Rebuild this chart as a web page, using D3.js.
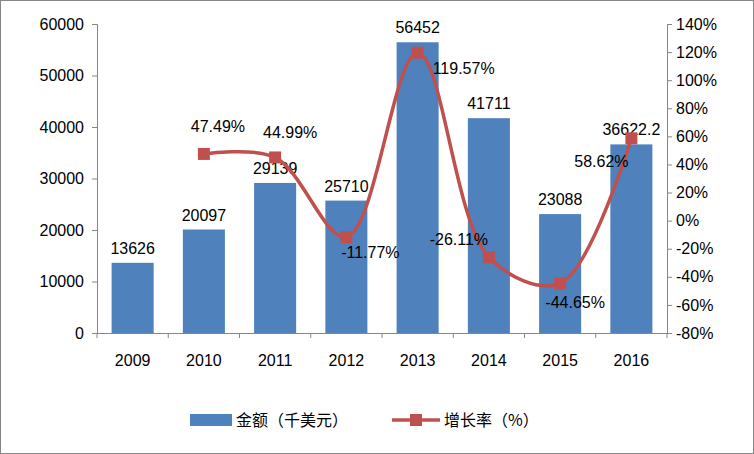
<!DOCTYPE html>
<html><head><meta charset="utf-8">
<script src="https://cdn.jsdelivr.net/npm/d3@7"></script>
<style>body{margin:0;background:#fff}svg{display:block}</style>
</head><body><div id="chart"></div>
<script>
const years = ["2009","2010","2011","2012","2013","2014","2015","2016"];
const amounts = [13626, 20097, 29139, 25710, 56452, 41711, 23088, 36622.2];
const growth = [null, 47.49, 44.99, -11.77, 119.57, -26.11, -44.65, 58.62];
const leftTicks = [0,10000,20000,30000,40000,50000,60000];
const rightTicks = [-80,-60,-40,-20,0,20,40,60,80,100,120,140];
// 增长率标签偏移
const labelOffsets = [null,[14,-28],[15,-25],[24,15],[46,15],[-30,-18],[15,19],[-30,23]];

const width = 754, height = 454;
const svg = d3.select("#chart").append("svg").attr("width", width).attr("height", height)
  .style("font-family", "'Liberation Sans', Arial, sans-serif");

svg.append("rect").attr("x",0.5).attr("y",0.5).attr("width",width-1).attr("height",height-1)
  .attr("fill","#fff").attr("stroke","#868686");

const x = d3.scaleBand().domain(years).range([97, 667]).paddingInner(0.41).paddingOuter(0.205);
const y = d3.scaleLinear().domain([0, 60000]).range([333, 24]);
const y2 = d3.scaleLinear().domain([-80, 140]).range([333, 24]);

const axL = svg.append("g").attr("transform","translate(97,0)")
  .call(d3.axisLeft(y).tickValues(leftTicks).tickSize(5).tickPadding(8).tickFormat(d3.format("d")));
const axR = svg.append("g").attr("transform","translate(667,0)")
  .call(d3.axisRight(y2).tickValues(rightTicks).tickSize(5).tickPadding(4).tickFormat(d => d + "%"));
const axB = svg.append("g").attr("transform","translate(0,333)")
  .call(d3.axisBottom(x).tickSize(0).tickPadding(22));
const xb = d3.scaleLinear().domain([0, 8]).range([97, 667]);
axB.selectAll(".tb").data(d3.range(9)).enter().append("line")
  .attr("x1", d => xb(d)).attr("x2", d => xb(d)).attr("y1", 0).attr("y2", 5).attr("stroke","#868686");
[axL, axR, axB].forEach(a => {
  a.selectAll("path,line").attr("stroke","#868686");
  a.selectAll("text").attr("fill","#000").style("font-size","16px")
    .style("font-family","'Liberation Sans', Arial, sans-serif");
});

// 柱子
svg.selectAll("rect.bar").data(amounts).enter().append("rect")
  .attr("x", (d, i) => x(years[i])).attr("width", x.bandwidth())
  .attr("y", d => y(d)).attr("height", d => 333 - y(d)).attr("fill","#4F81BD");
svg.selectAll("text.bl").data(amounts).enter().append("text")
  .attr("x", (d, i) => x(years[i]) + x.bandwidth()/2).attr("y", d => y(d) - 9)
  .attr("text-anchor","middle").style("font-size","16px").text(d => d);

// 增长率曲线
const pts = growth.map((g, i) => g == null ? null : [x(years[i]) + x.bandwidth()/2, y2(g)]).filter(p => p);
svg.append("path").attr("d", d3.line().curve(d3.curveCatmullRom.alpha(0.5))(pts))
  .attr("fill","none").attr("stroke","#C0504D").attr("stroke-width",3.5);
svg.selectAll("rect.mk").data(pts).enter().append("rect")
  .attr("x", d => d[0]-6).attr("y", d => d[1]-6).attr("width",12).attr("height",12)
  .attr("fill","#C0504D");
growth.forEach((g, i) => {
  if (g == null) return;
  const cx = x(years[i]) + x.bandwidth()/2, cy = y2(g), o = labelOffsets[i];
  svg.append("text").attr("x", cx + o[0]).attr("y", cy + o[1] + 6).attr("text-anchor","middle")
    .style("font-size","16px").text(g.toFixed(2) + "%");
});

// 图例
const lg = svg.append("g").attr("transform","translate(0,420)");
lg.append("rect").attr("x",190).attr("y",-6).attr("width",42).attr("height",12).attr("fill","#4F81BD");
lg.append("text").attr("x",236).attr("y",6).style("font-size","16px")
  .style("font-family","'Noto Sans CJK SC', sans-serif").text("金额（千美元）");
lg.append("line").attr("x1",392).attr("x2",440).attr("y1",0).attr("y2",0).attr("stroke","#C0504D").attr("stroke-width",3.5);
lg.append("rect").attr("x",410).attr("y",-6).attr("width",12).attr("height",12).attr("fill","#C0504D");
lg.append("text").attr("x",444).attr("y",6).style("font-size","16px")
  .style("font-family","'Noto Sans CJK SC', sans-serif").text("增长率（%）");
</script></body></html>
